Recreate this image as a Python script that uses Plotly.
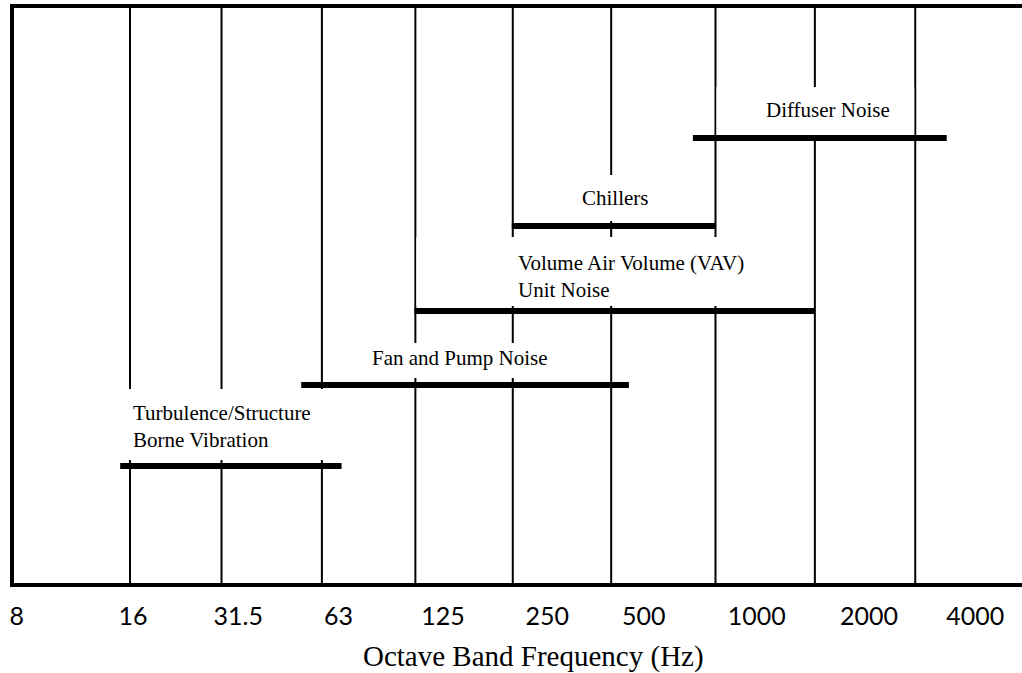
import plotly.graph_objects as go

# ---- data (x in octave-position units, y in schematic level units) ----
band_lines = [1.00, 1.93, 2.95, 3.90, 4.89, 5.89, 6.95, 7.96, 8.98]
tick_pos = [-0.15, 1.03, 2.10, 3.12, 4.18, 5.24, 6.22, 7.37, 8.51, 9.59]
tick_labels = ["8", "16", "31.5", "63", "125", "250", "500", "1000", "2000", "4000"]

sources = ["Turbulence/Structure<br>Borne Vibration", "Fan and Pump Noise",
           "Volume Air Volume (VAV)<br>Unit Noise", "Chillers", "Diffuser Noise"]
bar_start = [0.90, 2.74, 3.89, 4.88, 6.72]
bar_end = [3.15, 6.07, 7.96, 6.95, 9.30]
bar_level = [117, 198, 272, 357, 445]

# label boxes (white, hide the band lines behind the text)
box_x0 = [0.88, 2.98, 3.91, 4.91, 6.96]
box_x1 = [3.03, 5.86, 7.94, 6.92, 8.97]
box_y0 = [123, 205, 277, 362, 448]
box_y1 = [194, 240, 346, 408, 496]
text_x = [1.01, 4.35, 4.92, 5.93, 8.09]
text_y = [157, 225, 307, 385, 473]
text_anchor = ["left", "center", "left", "center", "center"]

y_top = 575
x_range = [-0.179, 10.065]

SERIF = "Liberation Serif, 'Times New Roman', Times, serif"

fig = go.Figure()

# vertical band lines
lx, ly = [], []
for b in band_lines:
    lx += [b, b, None]
    ly += [0, y_top, None]
fig.add_trace(go.Scatter(x=lx, y=ly, mode="lines",
                         line=dict(color="black", width=2),
                         hoverinfo="skip", showlegend=False))

# white label boxes
for x0, x1, y0, y1 in zip(box_x0, box_x1, box_y0, box_y1):
    fig.add_trace(go.Scatter(x=[x0, x1, x1, x0, x0], y=[y0, y0, y1, y1, y0],
                             mode="lines", fill="toself", fillcolor="white",
                             line=dict(width=0, color="white"),
                             hoverinfo="skip", showlegend=False))

# source range bars
for s, e, lv, name in zip(bar_start, bar_end, bar_level, sources):
    fig.add_trace(go.Scatter(x=[s, e], y=[lv, lv], mode="lines",
                             line=dict(color="black", width=6),
                             name=name.replace("<br>", " "), showlegend=False))

for t, x, y, a in zip(sources, text_x, text_y, text_anchor):
    fig.add_annotation(x=x, y=y, text=t, showarrow=False, xanchor=a,
                       yanchor="middle", align="left",
                       font=dict(family=SERIF, size=21, color="black"))

fig.add_annotation(x=0.515, y=-0.127, xref="paper", yref="paper", yanchor="middle",
                   text="Octave Band Frequency (Hz)", showarrow=False,
                   font=dict(family=SERIF, size=29, color="black"))

fig.update_layout(
    width=1022, height=673,
    margin=dict(l=14, r=0, t=8, b=90),
    paper_bgcolor="white", plot_bgcolor="white",
    xaxis=dict(range=x_range, showgrid=False, zeroline=False,
               showline=True, linecolor="black", linewidth=4, mirror=True,
               tickmode="array", tickvals=tick_pos, ticktext=tick_labels,
               ticks="", tickfont=dict(family="Lato", size=25, color="black"),
               ticklabelstandoff=8),
    yaxis=dict(range=[0, y_top], showgrid=False, zeroline=False,
               showline=True, linecolor="black", linewidth=4,
               showticklabels=False, ticks=""),
)
fig.write_html("out.html", config={"displayModeBar": False},
               post_script="document.body.style.margin='0';")
